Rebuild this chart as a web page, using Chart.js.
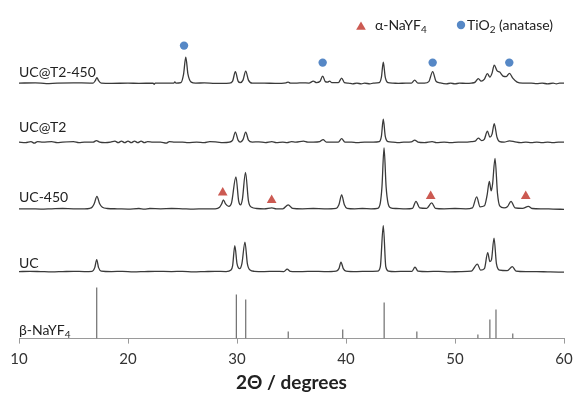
<!DOCTYPE html>
<html>
<head>
<meta charset="utf-8">
<script src="https://cdn.jsdelivr.net/npm/chart.js@4.4.1/dist/chart.umd.min.js"></script>
<style>
  html, body { margin: 0; padding: 0; background: #ffffff; }
</style>
</head>
<body>
<canvas id="c" width="574" height="394"></canvas>
<script>
// ---------- DATA (2θ in degrees, intensity in arbitrary units above each trace's own baseline) ----------
const seriesNames = ['UC@T2-450', 'UC@T2', 'UC-450', 'UC'];
const seriesOffsets = [255.5, 196.5, 129.8, 67];

const ucT2_450 = [
  [10,0],[11.5,0.3],[12.5,-0.5],[13.5,0],[15,0.3],[16.5,0],
  [16.8,0],[17.0,2.5],[17.15,5.5],[17.3,2.5],[17.55,0],
  [18.5,-0.3],[20,0],[21,-0.3],[22.3,0],[22.4,-1.2],[22.5,0],[23.5,0],[24.2,0],[24.3,1.2],[24.4,0],
  [24.85,0.5],[25.1,9],[25.3,26],[25.5,9],[25.8,1],[26.2,0],
  [27,0.2],[28,-0.3],[29.3,0],
  [29.6,2],[29.85,11.5],[30.1,2],[30.3,0.5],[30.55,3],[30.8,12],[31.05,3],[31.4,0],
  [32.5,0],[33.5,-0.3],[34.5,0.3],[34.7,1],[34.9,0],[35.5,0],[36,0.3],[36.6,0],[37.0,2],[37.3,0.5],
  [37.6,1.5],[37.86,7],[38.1,1.5],[38.3,1],[38.5,2],[38.7,0.5],[39.3,0.5],[39.6,5],[39.85,0.5],[40.2,0],
  [40.6,-0.8],[41,0],[41.4,-0.8],[41.7,0],[42.2,-0.8],[42.5,0],
  [43.05,0.5],[43.25,6],[43.42,21],[43.6,6],[43.85,0.5],[44.3,0],[44.8,-0.3],[45.5,0],
  [46.0,0],[46.3,3],[46.6,0],[47.2,0],[47.6,1.5],[47.95,11.5],[48.25,2],[48.6,0.3],[49.2,-0.8],[49.6,0],
  [50,-0.8],[50.4,0],[51,-0.3],[51.5,0],
  [51.85,1],[52.14,4.5],[52.4,2],[52.7,4],[52.97,9.5],[53.2,6],[53.4,10],[53.6,18],[53.85,12.5],[54.1,11],
  [54.4,7],[54.7,6.5],[55.0,9.8],[55.3,5],[55.7,1],[56.2,0],[57,0],[57.5,-0.5],[58,0],[58.5,-0.8],[59,0],
  [59.3,-0.8],[59.6,0],[60,0]
];

const ucT2 = [
  [10,0],[10.6,-0.5],[11.1,0.5],[11.4,-1],[11.7,0.5],[12.2,0],[13,0.5],[13.5,-0.5],[14,0],[15,0.5],[15.5,-0.5],
  [16,0],[16.8,0],[17.1,1.5],[17.4,0],[17.9,-0.5],[18.4,0],[18.8,1],[19.1,-0.5],[19.4,1],[19.7,-0.5],[20.0,1],
  [20.3,-0.5],[20.6,1],[20.9,-0.5],[21.2,1],[21.5,-0.5],[21.8,0.5],[22.3,0],[23,0],[23.5,-1],[23.8,0.5],[24.3,0],
  [25,0],[25.5,-0.5],[26.3,0],[27,-0.5],[27.5,0.5],[28.2,0],[28.7,-0.5],[29.3,0],
  [29.6,2],[29.85,10],[30.1,2],[30.3,0],[30.55,2.5],[30.8,10],[31.05,2],[31.4,0],
  [32,0.3],[32.6,-0.5],[33.2,0.5],[33.6,-0.5],[34.2,0],[34.6,-0.5],[35,0.5],[35.4,0],[36.1,1],[36.5,0],[37,0],
  [37.6,0.5],[37.9,2.5],[38.2,0],[38.8,0],[39.3,0],[39.6,3.5],[39.9,0],[40.5,0],[41,-0.5],[41.7,0],[42.5,0],
  [43.05,0.5],[43.25,6],[43.42,23],[43.6,6],[43.85,0.5],[44.3,0],[44.8,-0.5],[45.3,0],[46.0,0.3],[46.3,2],
  [46.6,0],[47.2,-0.5],[47.9,0.5],[48.3,-0.5],[49,0],[49.6,-0.5],[50.3,0],[51,0],[51.5,0.5],
  [51.85,1],[52.14,4],[52.45,1.5],[52.7,3],[52.97,11],[53.2,5],[53.4,8],[53.6,18.5],[53.85,5],[54.1,0.5],
  [54.5,0],[55,1.2],[55.5,0.3],[56,-0.5],[56.5,0],[57,-0.5],[57.5,0],[58,-0.5],[58.5,0],[59,-0.5],[59.5,0],[60,0]
];

const uc450 = [
  [10,0],[11,0],[12,-0.3],[13,0],[14,0.3],[15,0],[16,0],[16.5,0.5],
  [16.7,1.5],[16.9,5],[17.15,12.5],[17.4,5],[17.65,1.5],[18.1,0.3],[19,0],[20,-0.3],[21,0.3],[21.5,-0.3],
  [22,0.3],[23,0],[24,0.3],[25,0],[26,-0.3],[27,0],[28,0],
  [28.4,1.5],[28.6,5],[28.75,9],[28.95,5],[29.25,2.5],[29.5,6],[29.9,32],[30.15,8],[30.33,4],[30.5,10],
  [30.78,36.5],[31.05,8],[31.35,1.5],[31.8,0.3],[32.5,0],[33.2,1],[33.6,0],[34.2,0],[34.7,4],[35.1,0.5],
  [36,0],[37,0.3],[38,0],[39.1,0.5],[39.35,4],[39.6,14],[39.85,4],[40.1,0.5],[40.8,0],[41.5,0.3],[42.3,0],
  [42.9,0.5],[43.15,6],[43.3,22],[43.49,61],[43.68,22],[43.85,6],[44.1,1],[44.6,0.3],[45.5,0],[46.1,0.5],
  [46.42,7.5],[46.75,1],[47.4,0.5],[47.86,6],[48.2,0.5],[49,0],[50,0.3],[51,0],[51.6,1],[51.99,12],[52.3,2],
  [52.7,3],[52.95,14],[53.15,27.5],[53.32,18],[53.45,25],[53.67,50.5],[53.9,15],[54.1,3],[54.5,1],[54.8,2],
  [55.14,7.5],[55.5,1],[56.2,0.5],[56.73,2.5],[57.1,0.3],[58,0],[59,-0.3],[60,-0.5]
];

const uc = [
  [10,0],[11,0.3],[12,0],[13,-0.3],[14,0],[15,0.3],[16,0],[16.7,0.3],[16.95,4],[17.13,12],[17.3,4],[17.55,0.5],
  [18.5,0],[19.5,0.3],[20.5,-0.3],[21.5,0],[22.5,0.3],[24,0],[25,0.3],[26,-0.3],[27,0],[28,0.3],[29,0],
  [29.45,1.5],[29.6,6],[29.8,26],[30.0,8],[30.25,3],[30.45,8],[30.73,29.5],[30.95,8],[31.2,1.5],[31.6,0.3],
  [32.5,0],[33.5,0.3],[34.3,0],[34.6,2.5],[34.9,0.3],[36,0],[37,0.3],[38,0],[39.1,0.5],[39.35,3],[39.54,9.5],
  [39.75,3],[40,0.5],[41,0],[42,0.3],[42.9,0.5],[43.15,5],[43.42,46],[43.65,5],[43.9,0.5],[44.5,0],[45.5,0.3],
  [46.05,0.3],[46.33,4.5],[46.6,0.5],[47.5,0],[48.5,0.3],[49.5,-0.3],[50.5,0],[51.5,0.5],[52.05,7.5],[52.35,1.5],[52.7,3],
  [53.0,19],[53.2,10],[53.35,12],[53.58,33.5],[53.8,8],[54.1,1.5],[54.8,1],[55.26,5],[55.6,0.5],[56.5,0],
  [57.5,0],[58.5,-0.3],[59.5,-0.5],[60,-0.5]
];

// β-NaYF4 reference stick pattern
const betaPositions = [17.13, 29.94, 30.8, 34.7, 39.7, 43.5, 46.5, 52.1, 53.2, 53.76, 55.3];
const betaHeights   = [51, 44, 39, 7, 9, 36, 7, 4, 19, 29, 5];

// Phase markers (2θ, height on the stacked scale)
const alphaX = [28.69, 33.18, 47.77, 56.49];
const alphaY = [146, 138.5, 142.5, 142.5];
const anataseX = [25.14, 37.86, 47.95, 54.98];
const anataseY = [293, 276, 276, 276];

const xTicks = [10, 20, 30, 40, 50, 60];
const xTitle = '2Θ / degrees';

// ---------- BUILD ----------
const profiles = [ucT2_450, ucT2, uc450, uc];
const lineColor = '#3a3a3a';
const datasets = profiles.map((p, i) => ({
  type: 'line',
  label: seriesNames[i],
  data: p.map(([x, y]) => ({ x: x, y: y + seriesOffsets[i] })),
  borderColor: lineColor,
  borderWidth: 1.3,
  pointRadius: 0,
  cubicInterpolationMode: 'monotone',
  fill: false,
  order: 2
}));

const stickData = [];
betaPositions.forEach((x, i) => {
  stickData.push({ x: x, y: 0 }, { x: x, y: betaHeights[i] }, { x: x, y: null });
});
datasets.push({
  type: 'line', label: 'β-NaYF4', data: stickData,
  borderColor: '#6e6e6e', borderWidth: 1.2, pointRadius: 0, tension: 0, spanGaps: false, order: 2
});
datasets.push({
  type: 'scatter', label: 'α-NaYF4',
  data: alphaX.map((x, i) => ({ x: x, y: alphaY[i] })),
  pointStyle: 'triangle', pointRadius: 5.6, backgroundColor: '#cc5a52', borderColor: '#cc5a52', borderWidth: 0, order: 1
});
datasets.push({
  type: 'scatter', label: 'TiO2 (anatase)',
  data: anataseX.map((x, i) => ({ x: x, y: anataseY[i] })),
  pointStyle: 'circle', pointRadius: 4.2, backgroundColor: '#5688c6', borderColor: '#5688c6', borderWidth: 0, order: 1
});

const FONT = 'Lato, "Open Sans", sans-serif';

function drawRich(ctx, parts, x, y, size) {
  let cx = x;
  parts.forEach(([t, sub]) => {
    ctx.font = (sub ? Math.round(size * 0.68) : size) + 'px ' + FONT;
    ctx.fillText(t, cx, sub ? y + 3 : y);
    cx += ctx.measureText(t).width;
  });
}

const annotate = {
  id: 'annotate',
  afterDatasetsDraw(chart) {
    const ctx = chart.ctx;
    ctx.save();
    ctx.fillStyle = '#222';
    ctx.textBaseline = 'alphabetic';
    ctx.textAlign = 'left';
    const left = chart.chartArea.left;
    const labelBase = [77, 131.5, 201.5, 268];
    seriesNames.forEach((n, i) => {
      ctx.font = '14px ' + FONT;
      ctx.fillText(n, left, labelBase[i]);
    });
    drawRich(ctx, [['β-NaYF', false], ['4', true]], left, 334.5, 14);

    // legend
    ctx.fillStyle = '#cc5a52';
    const tx = 361, ty = 27, r = 5.6;
    ctx.beginPath();
    ctx.moveTo(tx, ty - r);
    ctx.lineTo(tx + r * Math.sin(2 * Math.PI / 3), ty - r * Math.cos(2 * Math.PI / 3));
    ctx.lineTo(tx + r * Math.sin(4 * Math.PI / 3), ty - r * Math.cos(4 * Math.PI / 3));
    ctx.closePath();
    ctx.fill();
    ctx.fillStyle = '#5688c6';
    ctx.beginPath();
    ctx.arc(461, 25, 4.2, 0, Math.PI * 2);
    ctx.fill();
    ctx.fillStyle = '#222';
    drawRich(ctx, [['α-NaYF', false], ['4', true]], 375, 29.5, 14);
    drawRich(ctx, [['TiO', false], ['2', true], [' (anatase)', false]], 467, 29.5, 14);
    ctx.restore();
  }
};

new Chart(document.getElementById('c'), {
  data: { datasets: datasets },
  options: {
    responsive: false,
    animation: false,
    devicePixelRatio: 1,
    layout: { padding: { top: 10, left: 19, right: 10, bottom: 0 } },
    plugins: { legend: { display: false }, tooltip: { enabled: false } },
    scales: {
      x: {
        type: 'linear', min: 10, max: 60,
        afterBuildTicks: (s) => { s.ticks = xTicks.map(v => ({ value: v })); },
        afterFit: (s) => { s.height = 55.4; s.paddingLeft = 0; s.paddingRight = 0; },
        ticks: { color: '#333', font: { family: FONT, size: 15 }, padding: 7, maxRotation: 0 },
        grid: { drawOnChartArea: false, drawTicks: true, tickLength: 5, color: '#9a9a9a' },
        border: { display: true, color: '#9a9a9a', width: 1 },
        title: { display: true, text: xTitle, color: '#222',
                 font: { family: FONT, size: 19, weight: 'bold' }, padding: { top: 4, bottom: 0 } }
      },
      y: { type: 'linear', display: false, min: 0, max: 328.6 }
    }
  },
  plugins: [annotate]
});
</script>
</body>
</html>
